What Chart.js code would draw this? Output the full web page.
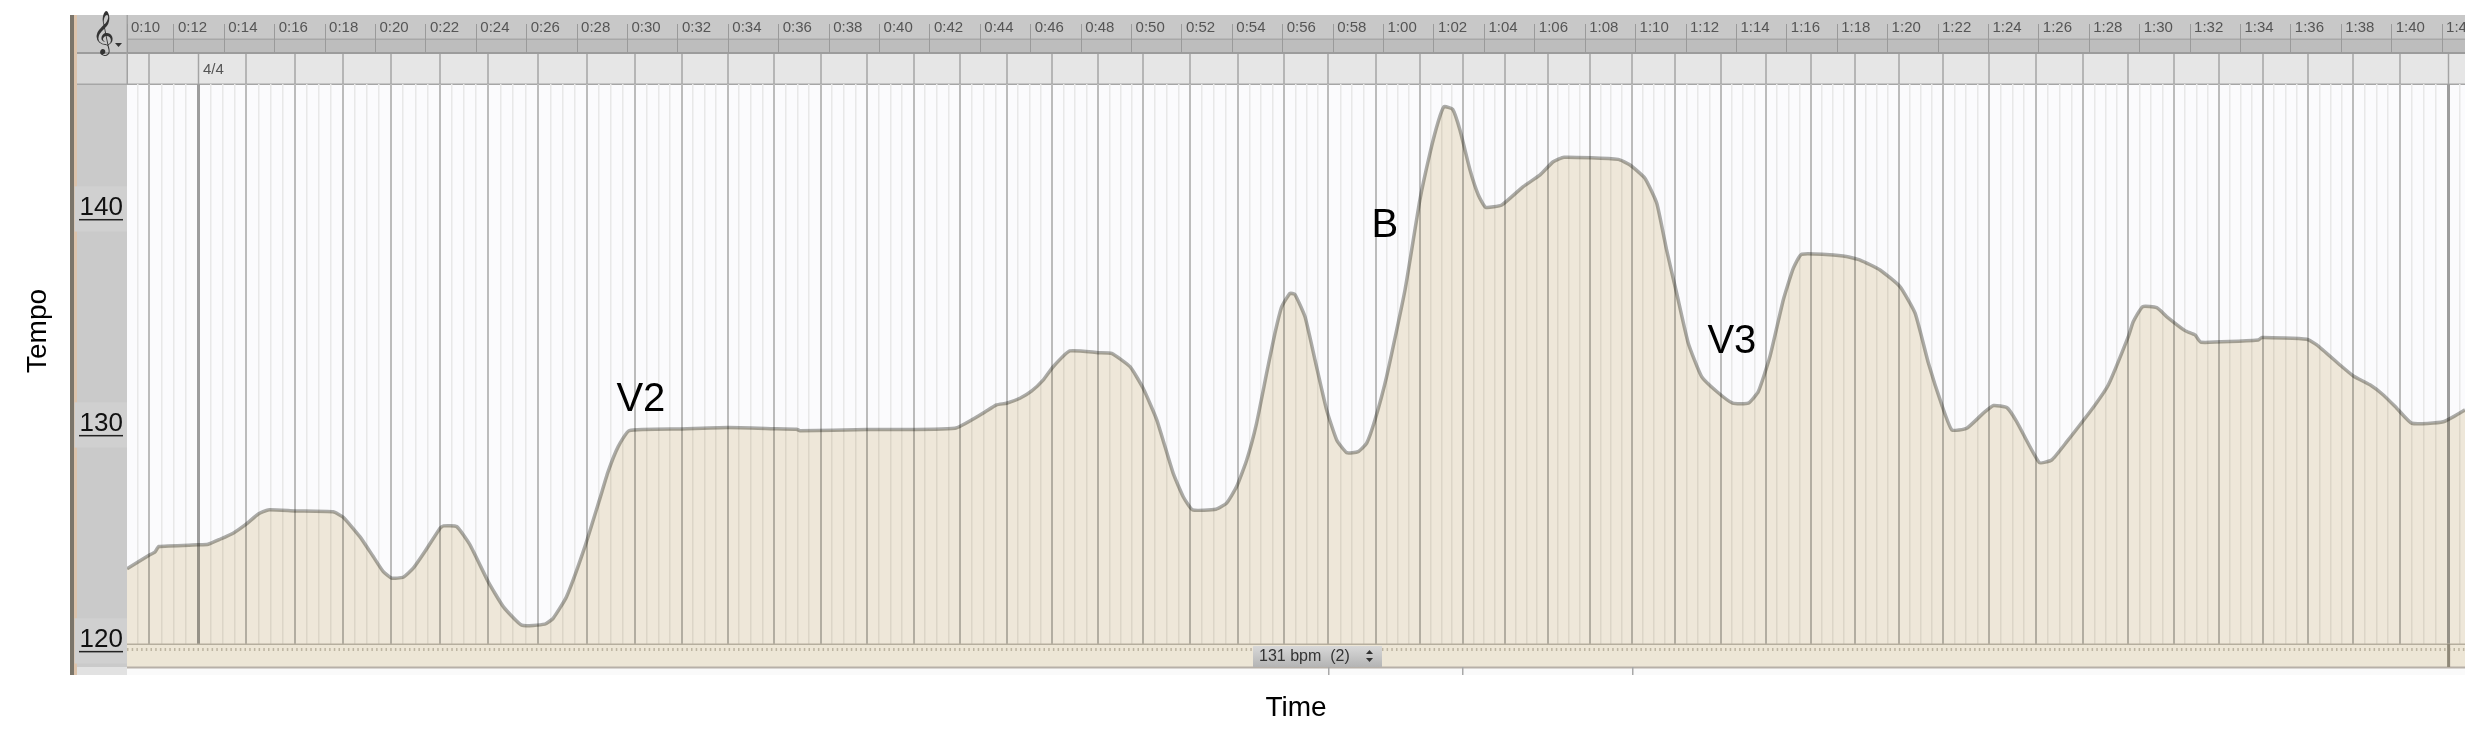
<!DOCTYPE html>
<html>
<head>
<meta charset="utf-8">
<title>Tempo over time</title>
<script src="https://cdn.jsdelivr.net/npm/chart.js@4"></script>
<style>
  html, body { margin: 0; padding: 0; background: #fff; }
  canvas { display: block; }
</style>
</head>
<body>
<canvas id="tempo-chart" width="2478" height="730"></canvas>
<script>
// Tempo curve (seconds, bpm)
const tempoTimes = [
  10.14, 10.98, 11.25, 11.40, 12.96, 13.36, 13.83, 14.35, 14.88, 15.35, 15.74, 16.80, 18.32, 18.72, 19.38, 19.91,
  20.31, 20.64, 21.10, 21.50, 21.96, 22.56, 22.69, 23.22, 23.75, 24.47, 25.07, 25.80, 26.72, 27.05, 27.58, 28.31,
  28.90, 29.23, 29.63, 30.07, 32.15, 33.99, 35.78, 36.71, 36.84, 39.49, 42.99, 44.11, 44.64, 45.04, 45.57, 46.04,
  46.50, 46.89, 47.55, 48.68, 49.21, 49.94, 50.46, 51.00, 51.65, 52.05, 52.42, 53.35, 53.77, 54.17, 54.57, 54.96,
  55.36, 55.69, 55.96, 56.29, 56.48, 56.88, 57.28, 57.74, 58.14, 58.54, 58.99, 59.33, 59.66, 60.12, 60.85, 61.44,
  61.84, 62.17, 62.40, 62.74, 63.03, 63.43, 63.76, 64.05, 64.69, 65.54, 66.21, 66.73, 67.16, 69.31, 69.78, 70.37,
  70.84, 71.23, 71.63, 72.09, 72.62, 73.22, 73.85, 74.47, 74.87, 75.33, 75.86, 76.26, 76.59, 78.24, 78.91, 79.70,
  80.49, 81.09, 81.62, 82.15, 82.55, 83.14, 83.80, 84.20, 84.74, 85.12, 86.02, 86.51, 87.11, 88.23, 88.76, 89.55,
  89.75, 90.12, 90.68, 91.07, 91.80, 92.20, 92.43, 94.71, 94.85, 96.63, 97.03, 97.95, 98.48, 99.14, 99.67, 100.20,
  100.80, 102.05, 102.91
];
const tempoValues = [
  123.29, 123.90, 124.07, 124.32, 124.40, 124.43, 124.66, 124.94, 125.37, 125.83, 126.02, 125.97, 125.93, 125.68, 124.78, 123.86,
  123.16, 122.86, 122.90, 123.32, 124.09, 125.17, 125.28, 125.25, 124.40, 122.70, 121.54, 120.68, 120.73, 121.00, 122.00, 124.32,
  126.53, 127.79, 128.95, 129.69, 129.77, 129.83, 129.78, 129.75, 129.69, 129.74, 129.80, 130.50, 130.88, 130.96, 131.19, 131.53,
  132.04, 132.65, 133.38, 133.30, 133.27, 132.65, 131.65, 130.19, 127.72, 126.63, 126.02, 126.05, 126.33, 127.10, 128.33, 130.03,
  132.35, 134.20, 135.43, 136.05, 136.00, 134.97, 132.96, 130.65, 129.26, 128.67, 128.72, 129.11, 130.19, 132.19, 136.20, 140.37,
  142.53, 144.00, 144.69, 144.57, 143.61, 141.76, 140.60, 140.03, 140.14, 140.99, 141.53, 142.14, 142.35, 142.25, 141.99, 141.38,
  140.22, 138.06, 136.05, 133.74, 132.19, 131.50, 130.96, 130.96, 131.50, 133.12, 135.74, 137.21, 137.86, 137.78, 137.59, 137.13,
  136.36, 135.13, 132.81, 130.88, 129.72, 129.80, 130.50, 130.85, 130.75, 130.11, 128.21, 128.33, 129.18, 130.88, 131.81, 134.04,
  134.74, 135.43, 135.38, 134.97, 134.32, 134.12, 133.78, 133.89, 134.00, 133.92, 133.66, 132.73, 132.22, 131.81, 131.34, 130.73,
  130.03, 130.10, 130.65
];

// Barlines of the score, in seconds
const measureTimes = [
  9.10, 11.03, 12.97, 14.88, 16.81, 18.71, 20.61, 22.56, 24.45, 26.46, 28.40, 30.29, 32.15, 33.97, 35.81, 37.66,
  39.51, 41.35, 43.20, 45.06, 46.83, 48.67, 50.46, 52.32, 54.21, 56.06, 57.81, 59.70, 61.44, 63.14, 64.83, 66.51,
  68.19, 69.85, 71.58, 73.38, 75.16, 76.96, 78.69, 80.45, 82.19, 84.03, 85.88, 87.77, 89.55, 91.35, 93.15, 94.88,
  96.68, 98.48, 100.32, 102.24, 104.07
];
const tempoSignMeasures = [12.97, 102.24];

const timeTickSeconds = [
  10.14, 12, 14, 16, 18, 20, 22, 24, 26, 28, 30, 32, 34, 36, 38, 40, 42, 44, 46, 48, 50, 52, 54, 56,
  58, 60, 62, 64, 66, 68, 70, 72, 74, 76, 78, 80, 82, 84, 86, 88, 90, 92, 94, 96, 98, 100, 102
];
const timeTickLabels = [
  '0:10', '0:12', '0:14', '0:16', '0:18', '0:20', '0:22', '0:24', '0:26', '0:28', '0:30', '0:32', '0:34', '0:36', '0:38', '0:40',
  '0:42', '0:44', '0:46', '0:48', '0:50', '0:52', '0:54', '0:56', '0:58', '1:00', '1:02', '1:04', '1:06', '1:08', '1:10', '1:12',
  '1:14', '1:16', '1:18', '1:20', '1:22', '1:24', '1:26', '1:28', '1:30', '1:32', '1:34', '1:36', '1:38', '1:40', '1:42'
];
const tempoTicks = [120, 130, 140];

// Section names written over the curve
const sectionNames = ['V2', 'B', 'V3'];
const sectionTimes = [30.53, 60.05, 73.82];
const sectionTempos = [131.1, 139.15, 133.8];

const X_MIN = 10.14;
const X_MAX = 102.91;
const FONT = '"Liberation Sans", Arial, sans-serif';

// Four beats per measure, the first one is the barline
const beatTicks = [];
for (let i = 0; i < measureTimes.length - 1; i++) {
  const step = (measureTimes[i + 1] - measureTimes[i]) / 4;
  for (let b = 0; b < 4; b++) {
    const value = measureTimes[i] + step * b;
    if (value > X_MIN && value < X_MAX) {
      beatTicks.push({ value: value, major: b === 0, sign: b === 0 && tempoSignMeasures.includes(measureTimes[i]) });
    }
  }
}

function rect(ctx, x, y, w, h, color) {
  ctx.fillStyle = color;
  ctx.fillRect(x, y, w, h);
}

// The editor window round the plot
const windowChrome = {
  id: 'windowChrome',
  beforeDraw(chart) {
    const ctx = chart.ctx;
    const a = chart.chartArea;
    ctx.save();
    rect(ctx, 0, 0, 2478, 730, '#ffffff');
    rect(ctx, a.left, a.top, a.right - a.left, a.bottom - a.top, '#fbfbfd');
    // gutter
    rect(ctx, 70, 15, 4, 660, '#7b756a');
    rect(ctx, 74, 15, 3, 660, '#dcc3ab');
    rect(ctx, 77, 84, 50, 583, '#cacaca');
    rect(ctx, 77, 667, 50, 8, '#e2e2e2');
    // ruler and measure row
    rect(ctx, 77, 15, a.right - 77, 24, '#c8c8c8');
    rect(ctx, 77, 39, 50, 14, '#c8c8c8');
    rect(ctx, 127, 39, a.right - 127, 14, '#bdbdbd');
    rect(ctx, 127, 38.5, a.right - 127, 1.5, '#a8a8a8');
    rect(ctx, 77, 52, a.right - 77, 2, '#9c9c9c');
    rect(ctx, 77, 54, 50, 30, '#d6d6d6');
    rect(ctx, 127, 54, a.right - 127, 30, '#e6e6e6');
    rect(ctx, 77, 83.5, a.right - 77, 1.5, '#a6a6a6');
    rect(ctx, 126.5, 15, 1.5, 69, '#a2a2a2');
    // strip under the curve
    rect(ctx, 127, a.bottom, a.right - 127, 23, '#ede6d6');
    rect(ctx, 127, 667, a.right - 127, 8, '#fafafa');
    ctx.restore();
  },
  // beat lines get darker under the fill, so multiply the area over them
  beforeDatasetsDraw(chart) {
    chart.ctx.globalCompositeOperation = 'multiply';
  },
  afterDatasetsDraw(chart) {
    chart.ctx.globalCompositeOperation = 'source-over';
  },
  afterDraw(chart) {
    const ctx = chart.ctx;
    const a = chart.chartArea;
    const x = chart.scales.x;
    ctx.save();
    rect(ctx, a.right, 0, 2478 - a.right, 730, '#ffffff');
    rect(ctx, 127, a.bottom - 0.5, a.right - 127, 1.5, '#b5ae9e');
    rect(ctx, 127, 666.5, a.right - 127, 2, '#b7b0a8');
    // little dots along the strip
    ctx.strokeStyle = '#bdb5a2';
    ctx.lineWidth = 3;
    ctx.setLineDash([1.5, 3.2]);
    ctx.beginPath();
    ctx.moveTo(127, 649.5);
    ctx.lineTo(a.right, 649.5);
    ctx.stroke();
    ctx.setLineDash([]);
    // end marker runs down to the strip edge
    rect(ctx, x.getPixelForValue(102.24) - 1, a.bottom, 3, 23, '#8f8878');
    // stubs below the strip
    [1328, 1462, 1632].forEach(function (px) { rect(ctx, px, 667, 1.5, 8, '#a8a8a8'); });

    // clef and time signature
    ctx.fillStyle = '#333';
    ctx.font = '38px "DejaVu Sans"';
    ctx.textAlign = 'center';
    ctx.textBaseline = 'middle';
    ctx.fillText('\u{1D11E}', 103, 35);
    ctx.beginPath();
    ctx.moveTo(115, 43);
    ctx.lineTo(122, 43);
    ctx.lineTo(118.5, 47);
    ctx.fill();
    ctx.fillStyle = '#555';
    ctx.font = '15px ' + FONT;
    ctx.textAlign = 'left';
    ctx.fillText('4/4', 203, 70);

    // bpm box
    const grad = ctx.createLinearGradient(0, 646, 0, 667);
    grad.addColorStop(0, '#d8d8d8');
    grad.addColorStop(1, '#b4b4b4');
    ctx.fillStyle = grad;
    ctx.fillRect(1253, 646, 129, 21);
    ctx.fillStyle = '#333';
    ctx.font = '16px ' + FONT;
    ctx.fillText('131 bpm  (2)', 1259, 657);
    ctx.beginPath();
    ctx.moveTo(1366, 654); ctx.lineTo(1373, 654); ctx.lineTo(1369.5, 650);
    ctx.moveTo(1366, 658); ctx.lineTo(1373, 658); ctx.lineTo(1369.5, 662);
    ctx.fill();

    // underlined tempo labels
    const y = chart.scales.y;
    tempoTicks.forEach(function (v) {
      rect(ctx, 79, y.getPixelForValue(v) + 11, 44, 1.5, '#222');
    });

    // section names
    ctx.fillStyle = '#000';
    ctx.font = '40px ' + FONT;
    ctx.textAlign = 'center';
    sectionNames.forEach(function (name, i) {
      ctx.fillText(name, x.getPixelForValue(sectionTimes[i]), y.getPixelForValue(sectionTempos[i]));
    });

    // y title sits above the middle of the axis in the reference
    ctx.translate(38, 331);
    ctx.rotate(-Math.PI / 2);
    ctx.font = '28px ' + FONT;
    ctx.fillText('Tempo', 0, 0);
    ctx.restore();
  }
};

function initChart() {
  const ctx = document.getElementById('tempo-chart').getContext('2d');
  new Chart(ctx, {
    type: 'line',
    data: {
      datasets: [{
        label: 'Tempo',
        data: tempoTimes.map(function (t, i) { return { x: t, y: tempoValues[i] }; }),
        xAxisID: 'x',
        yAxisID: 'y',
        borderColor: '#aeaeaa',
        borderWidth: 3.5,
        backgroundColor: '#f2ebdb',
        fill: 'start',
        pointRadius: 0,
        tension: 0.15,
        borderJoinStyle: 'round'
      }]
    },
    plugins: [windowChrome],
    options: {
      responsive: false,
      animation: false,
      layout: { padding: { top: 15, right: 13, left: 0, bottom: 0 } },
      plugins: { legend: { display: false }, tooltip: { enabled: false } },
      scales: {
        // time ruler
        x: {
          type: 'linear',
          position: 'top',
          weight: 1,
          min: X_MIN,
          max: X_MAX,
          border: { display: false },
          grid: { drawOnChartArea: false, drawTicks: true, tickLength: 29, color: '#9a9a9a', lineWidth: 1 },
          ticks: {
            autoSkip: false,
            maxRotation: 0,
            minRotation: 0,
            align: 'start',
            labelOffset: 4,
            padding: -13,
            color: '#555',
            font: { family: FONT, size: 15 },
            callback: function (value, index) { return timeTickLabels[index]; }
          },
          afterBuildTicks: function (scale) {
            scale.ticks = timeTickSeconds.map(function (v) { return { value: v }; });
          },
          afterFit: function (scale) {
            scale.height = 38;
            scale.paddingLeft = 0;
            scale.paddingRight = 0;
          }
        },
        // measure row and beat lines
        xBeats: {
          type: 'linear',
          position: 'top',
          weight: 0,
          min: X_MIN,
          max: X_MAX,
          border: { display: false },
          ticks: { display: false, autoSkip: false },
          grid: {
            drawTicks: true,
            tickLength: 30,
            color: function (c) {
              if (!c.tick) return 'transparent';
              if (c.tick.sign) return '#9d9d9d';
              return c.tick.major ? '#bcbcbc' : '#e8e8e8';
            },
            lineWidth: function (c) {
              if (!c.tick) return 0;
              if (c.tick.sign) return 3;
              return c.tick.major ? 2 : 1.5;
            },
            tickColor: function (c) {
              if (!c.tick) return 'transparent';
              return c.tick.major ? '#a4a4a4' : 'transparent';
            },
            tickWidth: 1.5
          },
          afterBuildTicks: function (scale) {
            scale.ticks = beatTicks.slice();
          },
          afterFit: function (scale) {
            scale.height = 31;
            scale.paddingLeft = 0;
            scale.paddingRight = 0;
          }
        },
        // carries only the axis title
        xTitle: {
          type: 'linear',
          position: 'bottom',
          min: X_MIN,
          max: X_MAX,
          border: { display: false },
          grid: { display: false },
          ticks: { display: false },
          title: {
            display: true,
            text: 'Time',
            color: '#000',
            font: { family: FONT, size: 28 },
            padding: { top: 0, bottom: 5 }
          },
          afterFit: function (scale) {
            scale.height = 86;
            scale.paddingLeft = 0;
            scale.paddingRight = 0;
          }
        },
        y: {
          type: 'linear',
          position: 'left',
          min: 119.81,
          max: 145.74,
          border: { display: false },
          grid: { display: false, drawTicks: false },
          ticks: {
            padding: 4,
            color: '#111',
            font: { family: FONT, size: 26 },
            showLabelBackdrop: true,
            backdropColor: '#d0d0d0',
            backdropPadding: { top: 6, bottom: 8, left: 5, right: 5 }
          },
          afterBuildTicks: function (scale) {
            scale.ticks = tempoTicks.map(function (v) { return { value: v }; });
          },
          afterFit: function (scale) {
            scale.width = 127;
            scale.paddingTop = 0;
            scale.paddingBottom = 0;
          }
        }
      }
    }
  });
}

window.onload = initChart;
</script>
</body>
</html>
